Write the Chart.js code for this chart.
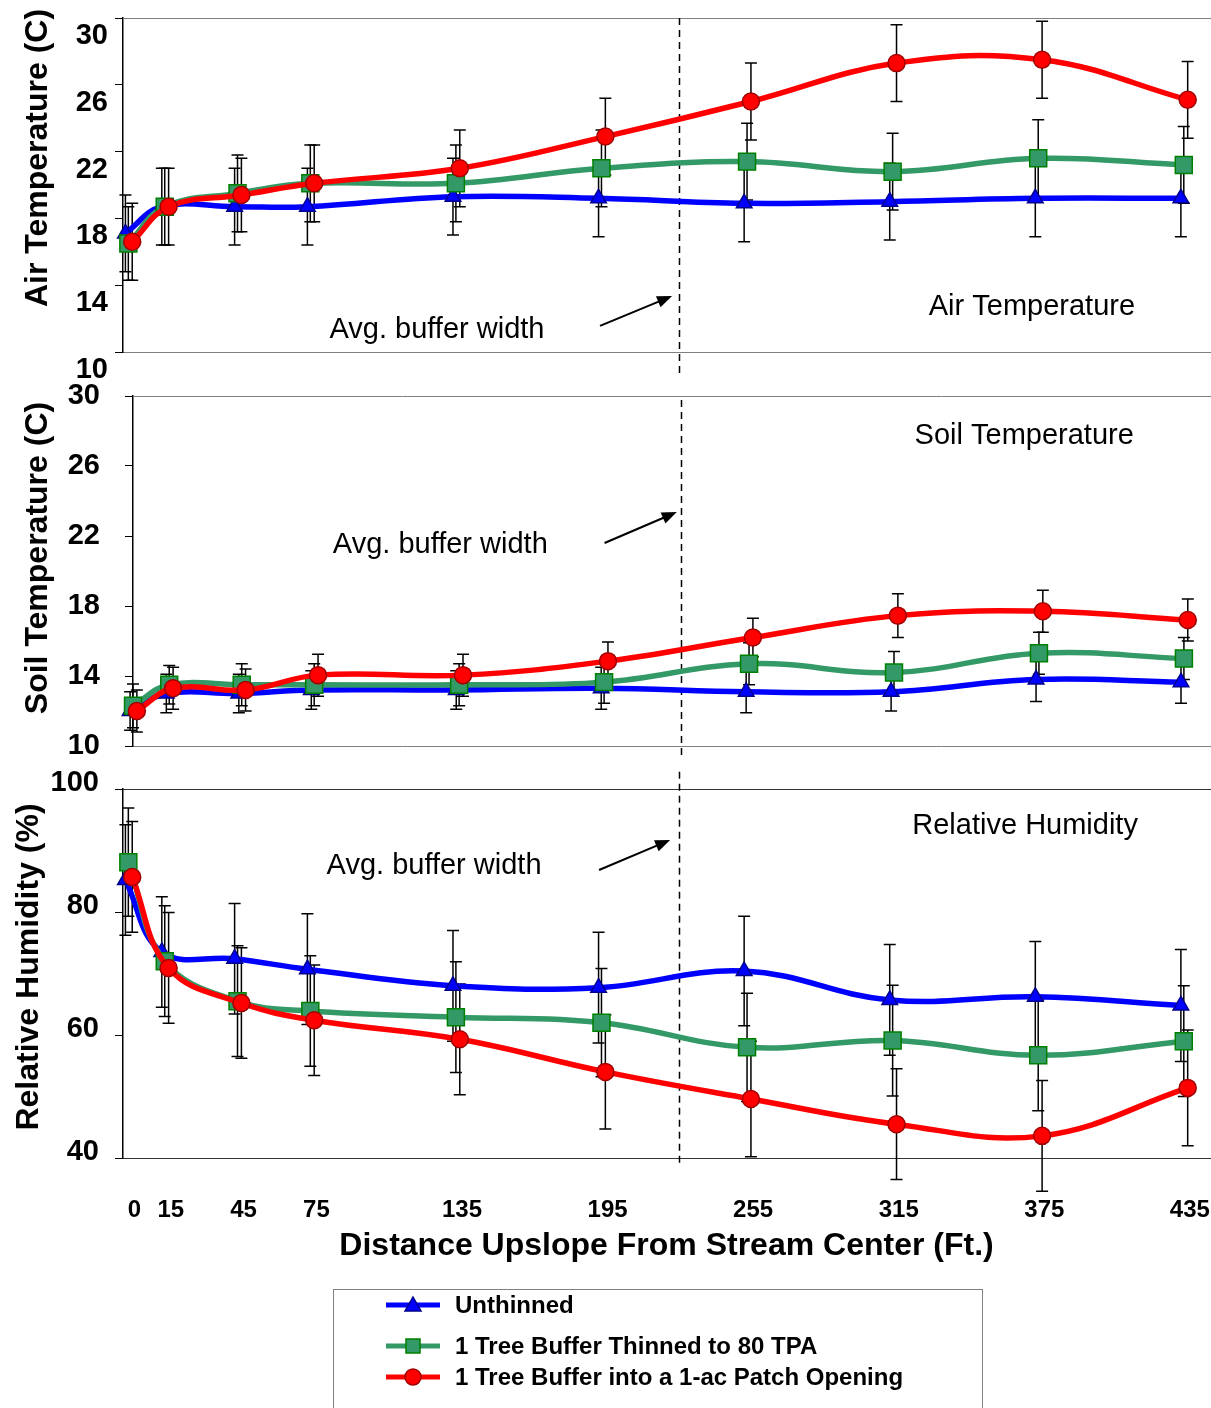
<!DOCTYPE html>
<html>
<head>
<meta charset="utf-8">
<script src="https://cdn.jsdelivr.net/npm/chart.js@4.4.1/dist/chart.umd.min.js"></script>
<style>
  body { margin: 0; background: #fff; width: 1211px; height: 1408px; position: relative; overflow: hidden;
         font-family: "Liberation Sans", Arial, sans-serif; }
  canvas { position: absolute; left: 0; }
  #legend { position: absolute; left: 333px; top: 1289px; width: 650px; height: 140px;
            border: 1px solid #808080; box-sizing: border-box; }
  .item { position: absolute; left: 52px; height: 26px; line-height: 26px; display: flex; align-items: center;
          font-weight: bold; font-size: 24px; color: #000; white-space: nowrap; }
  .item svg { margin-right: 15px; }
</style>
</head>
<body>
<canvas id="air" width="1211" height="392" style="top:0"></canvas>
<canvas id="soil" width="1211" height="400" style="top:380px"></canvas>
<canvas id="rh" width="1211" height="560" style="top:770px"></canvas>

<div id="legend">
  <div class="item" style="top:2px">
    <svg width="54" height="20"><line x1="0" y1="10" x2="54" y2="10" stroke="#0000FF" stroke-width="5"/>
      <polygon points="27,2 35,16 19,16" fill="#0000FF" stroke="#00008B" stroke-width="1.5"/></svg>
    <span id="lg0"></span>
  </div>
  <div class="item" style="top:43px">
    <svg width="54" height="20"><line x1="0" y1="10" x2="54" y2="10" stroke="#339966" stroke-width="5"/>
      <rect x="20" y="3" width="14" height="14" fill="#339966" stroke="#008000" stroke-width="1.5"/></svg>
    <span id="lg1"></span>
  </div>
  <div class="item" style="top:74px">
    <svg width="54" height="20"><line x1="0" y1="10" x2="54" y2="10" stroke="#FF0000" stroke-width="5"/>
      <circle cx="27" cy="10" r="8" fill="#FF0000" stroke="#A00000" stroke-width="1.5"/></svg>
    <span id="lg2"></span>
  </div>
</div>

<script>
// distance upslope from stream center (ft)
const distances = [0, 15, 45, 75, 135, 195, 255, 315, 375, 435];
// each treatment is plotted slightly offset so the error bars don't overlap
const unthinnedX = [0, 15, 45, 75, 135, 195, 255, 315, 375, 435];
const thinnedX = [1.2, 16.2, 46.2, 76.2, 136.2, 196.2, 256.2, 316.2, 376.2, 436.2];
const patchX = [2.8, 17.8, 47.8, 77.8, 137.8, 197.8, 257.8, 317.8, 377.8, 437.8];

const seriesLabels = ['Unthinned', '1 Tree Buffer Thinned to 80 TPA', '1 Tree Buffer into a 1-ac Patch Opening'];

// air temperature (C)
const airUnthinned = [17.1, 18.7, 18.7, 18.7, 19.3, 19.2, 18.9, 19.0, 19.2, 19.2];
const airThinned = [16.5, 18.7, 19.5, 20.1, 20.1, 21.0, 21.4, 20.8, 21.6, 21.2];
const airPatch = [16.6, 18.7, 19.4, 20.1, 21.0, 22.9, 25.0, 27.3, 27.5, 25.1];
const airUnthinnedErr = [2.3, 2.3, 2.3, 2.3, 2.3, 2.3, 2.3, 2.3, 2.3, 2.3];
const airThinnedErr = [2.2, 2.3, 2.3, 2.3, 2.3, 2.3, 2.3, 2.3, 2.3, 2.3];
const airPatchErr = [2.3, 2.3, 2.2, 2.3, 2.3, 2.3, 2.3, 2.3, 2.3, 2.3];

// soil temperature (C)
const soilUnthinned = [12.0, 13.0, 13.0, 13.2, 13.2, 13.3, 13.1, 13.1, 13.8, 13.65];
const soilThinned = [12.3, 13.5, 13.5, 13.5, 13.5, 13.65, 14.7, 14.2, 15.3, 15.0];
const soilPatch = [12.0, 13.3, 13.2, 14.05, 14.05, 14.85, 16.2, 17.45, 17.7, 17.2];
const soilUnthinnedErr = [1.1, 1.1, 1.1, 1.1, 1.1, 1.2, 1.2, 1.1, 1.25, 1.2];
const soilThinnedErr = [1.25, 1.1, 1.2, 1.2, 1.2, 1.2, 1.2, 1.2, 1.2, 1.2];
const soilPatchErr = [1.2, 1.2, 1.2, 1.2, 1.2, 1.1, 1.1, 1.25, 1.2, 1.2];

// relative humidity (%)
const rhUnthinned = [85.2, 73.5, 72.4, 70.7, 68.0, 67.7, 70.4, 65.7, 66.2, 64.8];
const rhThinned = [88.1, 72.0, 65.5, 63.9, 62.9, 62.0, 58.0, 59.1, 56.7, 59.0];
const rhPatch = [85.7, 70.9, 65.2, 62.4, 59.3, 54.0, 49.6, 45.5, 43.6, 51.4];
const rhUnthinnedErr = [9.0, 9.0, 9.0, 9.0, 9.0, 9.0, 8.9, 9.0, 9.0, 9.1];
const rhThinnedErr = [8.8, 9.0, 9.0, 9.0, 9.0, 8.8, 8.8, 9.0, 9.0, 9.0];
const rhPatchErr = [9.0, 9.0, 9.0, 9.0, 9.0, 9.3, 9.4, 9.0, 9.0, 9.4];

const avgBufferWidth = 228;

const FONT = '"Liberation Sans", Arial, sans-serif';
Chart.defaults.font.family = FONT;
Chart.defaults.color = '#000';

seriesLabels.forEach((t, i) => { document.getElementById('lg' + i).textContent = t; });

const styles = [
  { borderColor: '#0000FF', backgroundColor: '#0000FF', pointBorderColor: '#00008B', pointStyle: 'triangle', pointRadius: 9, order: 3 },
  { borderColor: '#339966', backgroundColor: '#339966', pointBorderColor: '#008000', pointStyle: 'rect', pointRadius: 12, order: 2 },
  { borderColor: '#FF0000', backgroundColor: '#FF0000', pointBorderColor: '#A00000', pointStyle: 'circle', pointRadius: 8.5, order: 1 }
];

function series(i, xs, ys, errs) {
  return Object.assign({
    label: seriesLabels[i],
    data: xs.map((x, j) => ({ x, y: ys[j] })),
    errors: errs,
    borderWidth: 5.5,
    pointBorderWidth: 1.5,
    tension: 0.4,
    clip: false
  }, styles[i]);
}

function arrow(ctx, x1, y1, x2, y2) {
  const ang = Math.atan2(y2 - y1, x2 - x1);
  ctx.beginPath();
  ctx.moveTo(x1, y1);
  ctx.lineTo(x2 - 10 * Math.cos(ang), y2 - 10 * Math.sin(ang));
  ctx.stroke();
  ctx.beginPath();
  ctx.moveTo(x2, y2);
  ctx.lineTo(x2 - 15 * Math.cos(ang) + 6 * Math.sin(ang), y2 - 15 * Math.sin(ang) - 6 * Math.cos(ang));
  ctx.lineTo(x2 - 15 * Math.cos(ang) - 6 * Math.sin(ang), y2 - 15 * Math.sin(ang) + 6 * Math.cos(ang));
  ctx.closePath();
  ctx.fill();
}

// frame line, error bars, buffer line, notes and the y title
const extras = {
  id: 'extras',
  beforeDatasetsDraw(chart, args, o) {
    const { ctx, chartArea: a, scales: { x, y } } = chart;
    ctx.save();
    ctx.strokeStyle = o.frameColor;
    ctx.lineWidth = 1;
    ctx.beginPath();
    ctx.moveTo(a.left, a.top + 0.5);
    ctx.lineTo(a.right + 1, a.top + 0.5);
    ctx.stroke();

    // dashed average buffer width line
    const bx = Math.round(x.getPixelForValue(avgBufferWidth)) + 0.5;
    ctx.strokeStyle = '#000';
    ctx.lineWidth = 1.5;
    ctx.setLineDash([7, 5]);
    ctx.beginPath();
    ctx.moveTo(bx, y.getPixelForValue(o.buffer[0]));
    ctx.lineTo(bx, y.getPixelForValue(o.buffer[1]));
    ctx.stroke();
    ctx.setLineDash([]);

    // error bars
    chart.data.datasets.forEach((ds, i) => {
      chart.getDatasetMeta(i).data.forEach((pt, j) => {
        const v = ds.data[j].y, e = ds.errors[j];
        const t = y.getPixelForValue(v + e), b = y.getPixelForValue(v - e);
        ctx.beginPath();
        ctx.moveTo(pt.x, t); ctx.lineTo(pt.x, b);
        ctx.moveTo(pt.x - 6, t); ctx.lineTo(pt.x + 6, t);
        ctx.moveTo(pt.x - 6, b); ctx.lineTo(pt.x + 6, b);
        ctx.stroke();
      });
    });
    ctx.restore();
  },
  afterDatasetsDraw(chart, args, o) {
    const { ctx, scales: { x, y } } = chart;
    ctx.save();
    ctx.fillStyle = '#000';
    ctx.strokeStyle = '#000';
    ctx.lineWidth = 2;
    ctx.textAlign = 'center';
    ctx.textBaseline = 'middle';
    ctx.font = '29px ' + FONT;
    ctx.fillText('Avg. buffer width', x.getPixelForValue(o.note[0]), y.getPixelForValue(o.note[1]));
    ctx.fillText(o.name, x.getPixelForValue(o.namePos[0]), y.getPixelForValue(o.namePos[1]));
    arrow(ctx, x.getPixelForValue(o.arrow[0]), y.getPixelForValue(o.arrow[1]),
      x.getPixelForValue(o.arrow[2]), y.getPixelForValue(o.arrow[3]));

    ctx.translate(o.yTitle.x, o.yTitle.y);
    ctx.rotate(-Math.PI / 2);
    ctx.font = 'bold 32px ' + FONT;
    ctx.fillText(o.yTitle.text, 0, 0);
    ctx.restore();
  }
};

function makePanel(id, p) {
  return new Chart(document.getElementById(id), {
    type: 'line',
    data: { datasets: p.datasets },
    plugins: [extras],
    options: {
      responsive: false,
      animation: false,
      devicePixelRatio: 1,
      events: [],
      layout: { padding: p.padding, autoPadding: false },
      plugins: { legend: { display: false }, tooltip: { enabled: false }, extras: p.extras },
      scales: {
        x: {
          type: 'linear',
          min: p.xMin,
          max: 447,
          grid: { display: false, drawTicks: false },
          border: { display: true, color: p.bottomColor, width: 1 },
          ticks: p.xTicks ? {
            display: true, autoSkip: false, maxRotation: 0, minRotation: 0, padding: 37.6, labelOffset: 9,
            font: { size: 24, weight: 'bold' }, callback: v => String(v)
          } : { display: false },
          afterBuildTicks: s => { s.ticks = distances.map(v => ({ value: v })); },
          title: p.xTicks ? {
            display: true, text: 'Distance Upslope From Stream Center (Ft.)',
            font: { size: 32, weight: 'bold' }, padding: { top: 0, bottom: 2.8 }
          } : { display: false },
          afterFit: s => { s.height = p.xHeight; s.paddingLeft = 0; s.paddingRight = 0; }
        },
        y: {
          min: p.yMin,
          max: p.yMax,
          ticks: { stepSize: p.yStep, font: { size: 29, weight: 'bold' }, padding: p.tickPad, labelOffset: p.labelOffset },
          grid: { drawOnChartArea: false, drawTicks: true, tickLength: 8, color: '#000' },
          border: { display: true, color: '#000', width: 1.5 },
          afterFit: s => { s.width = p.axisWidth; s.paddingTop = 0; s.paddingBottom = 0; }
        }
      }
    }
  });
}

makePanel('air', {
  datasets: [
    series(0, unthinnedX, airUnthinned, airUnthinnedErr),
    series(1, thinnedX, airThinned, airThinnedErr),
    series(2, patchX, airPatch, airPatchErr)
  ],
  padding: { top: 18, right: 1, bottom: 40, left: 0 },
  xMin: -1, xHeight: 0, bottomColor: '#808080',
  yMin: 10, yMax: 30, yStep: 4, tickPad: 7, labelOffset: 18, axisWidth: 123,
  extras: {
    frameColor: '#808080',
    buffer: [30, 8.6],
    note: [128.4, 11.32],
    arrow: [195.6, 11.56, 225.3, 13.35],
    name: 'Air Temperature', namePos: [373.6, 12.69],
    yTitle: { text: 'Air Temperature (C)', x: 38, y: 158 }
  }
});

makePanel('soil', {
  datasets: [
    series(0, unthinnedX, soilUnthinned, soilUnthinnedErr),
    series(1, thinnedX, soilThinned, soilThinnedErr),
    series(2, patchX, soilPatch, soilPatchErr)
  ],
  padding: { top: 16, right: 1, bottom: 34, left: 0 },
  xMin: 1.2, xHeight: 0, bottomColor: '#808080',
  yMin: 10, yMax: 30, yStep: 4, tickPad: 25, labelOffset: 0, axisWidth: 133,
  extras: {
    frameColor: '#808080',
    buffer: [29.77, 9.2],
    note: [128.4, 21.49],
    arrow: [196.4, 21.6, 226.3, 23.37],
    name: 'Soil Temperature', namePos: [370.1, 27.71],
    yTitle: { text: 'Soil Temperature (C)', x: 38, y: 178 }
  }
});

makePanel('rh', {
  datasets: [
    series(0, unthinnedX, rhUnthinned, rhUnthinnedErr),
    series(1, thinnedX, rhThinned, rhThinnedErr),
    series(2, patchX, rhPatch, rhPatchErr)
  ],
  padding: { top: 19, right: 1, bottom: 62, left: 0 },
  xMin: -1, xHeight: 110, xTicks: true, bottomColor: '#333',
  yMin: 40, yMax: 100, yStep: 20, tickPad: 16, labelOffset: -6, axisWidth: 123,
  extras: {
    frameColor: '#333',
    buffer: [102.8, 38.4],
    note: [127.2, 87.48],
    arrow: [195.2, 86.83, 224.5, 91.71],
    name: 'Relative Humidity', namePos: [370.8, 93.98],
    yTitle: { text: 'Relative Humidity (%)', x: 29, y: 197 }
  }
});
</script>
</body>
</html>
